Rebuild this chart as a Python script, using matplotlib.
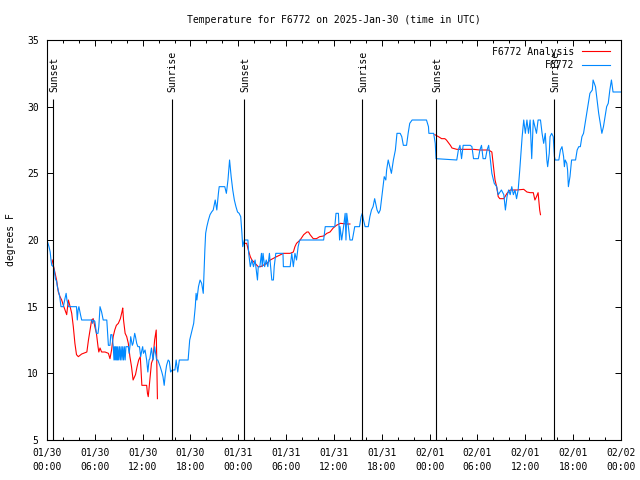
import numpy as np
import matplotlib
matplotlib.use("Agg")
import matplotlib.pyplot as plt
import matplotlib.dates as mdates

# hours after 2025-01-30 00:00 UTC, temperature in F
obs_hours = [0.0, 0.25, 0.4, 0.5, 0.6, 0.8, 0.9, 1.05, 1.2, 1.3, 1.5, 1.6, 1.75, 2.05, 2.25, 2.4, 2.5, 2.7,
             3.7, 3.8, 3.9, 4.0, 4.2, 4.35, 5.6, 5.7, 5.8, 6.0, 6.2, 6.4, 6.5, 6.65, 6.85, 7.05, 7.5, 7.6,
             7.7, 7.9, 8.0, 8.15, 8.3, 8.4, 8.45, 8.55, 8.6, 8.7, 8.75, 8.85, 8.9, 9.0, 9.1, 9.2, 9.3, 9.4,
             9.5, 9.6, 9.7, 9.8, 9.9, 10.2, 10.3, 10.4, 10.5, 10.7, 10.8, 11.0, 11.1, 11.25, 11.4, 11.6,
             11.75, 11.9, 12.0, 12.1, 12.3, 12.5, 12.65, 12.8, 12.9, 13.1, 13.3, 13.5, 13.75, 13.9, 14.05,
             14.2, 14.4, 14.55, 14.7, 14.85, 15.0, 15.2, 15.35, 15.5, 15.7, 16.05, 16.2, 16.4, 16.6, 17.7,
             17.9, 18.2, 18.4, 18.6, 18.7, 18.8, 19.0, 19.2, 19.4, 19.6, 19.8, 19.9, 20.05, 20.25, 20.45,
             20.65, 20.85, 21.1, 21.3, 21.5, 21.6, 22.3, 22.5, 22.7, 22.9, 23.1, 23.3, 23.5, 23.7, 23.9,
             24.1, 24.3, 24.45, 24.55, 24.75, 25.2, 25.3, 25.5, 25.7, 25.9, 26.1, 26.2, 26.4, 26.5, 26.7,
             26.9, 27.0, 27.1, 27.3, 27.5, 27.7, 27.9, 28.2, 28.4, 28.5, 28.7, 29.6, 29.65, 30.5, 30.7,
             30.9, 31.1, 31.3, 31.5, 31.7, 34.7, 34.9, 36.1, 36.25, 36.55, 36.7, 36.75, 36.97, 37.2, 37.4,
             37.5, 37.6, 37.8, 38.0, 38.3, 38.6, 39.2, 39.4, 39.55, 39.7, 39.9, 40.3, 40.5, 40.7, 40.9,
             41.1, 41.4, 41.6, 41.8, 42.0, 42.2, 42.3, 42.5, 42.6, 42.8, 43.0, 43.2, 43.45, 43.7, 43.9,
             44.3, 44.5, 44.7, 45.1, 45.3, 45.5, 45.8, 47.6, 47.85, 47.9, 48.5, 48.7, 48.8, 51.4, 51.6,
             51.8, 52.0, 52.2, 53.1, 53.3, 53.5, 54.1, 54.3, 54.5, 54.7, 55.0, 55.2, 55.4, 55.6, 55.8,
             56.1, 56.4, 56.6, 57.0, 57.3, 57.5, 57.7, 57.9, 58.1, 58.3, 58.5, 58.7, 58.9, 59.1, 59.3,
             59.6, 59.8, 60.0, 60.2, 60.4, 60.6, 60.8, 61.0, 61.4, 61.6, 61.9, 62.1, 62.3, 62.5, 62.7,
             62.8, 63.0, 63.1, 63.3, 63.5, 63.65, 63.75, 64.2, 64.4, 64.6, 64.8, 64.9, 65.0, 65.2, 65.3,
             65.4, 65.6, 65.8, 66.3, 66.5, 66.7, 66.9, 67.1, 67.3, 67.5, 67.7, 67.9, 68.1, 68.4, 68.5,
             68.8, 69.0, 69.2, 69.4, 69.6, 69.8, 70.0, 70.2, 70.4, 70.6, 70.8, 71.0, 72.0]
obs_temp = [20.0, 19.5, 19.1, 18.5, 18.1, 18.0, 17.75, 17.1, 16.9, 16.5, 16.0, 15.75, 15.0, 15.0, 15.6, 16.0,
            15.5, 15.0, 15.0, 14.0, 14.75, 15.0, 14.4, 14.0, 14.0, 13.75, 14.0, 13.9, 13.0, 13.0, 13.5,
            15.0, 14.6, 14.0, 14.0, 13.0, 12.1, 12.1, 12.9, 12.9, 12.1, 11.0, 12.0, 11.0, 12.0, 11.0, 12.0,
            11.0, 12.0, 11.0, 12.0, 11.0, 12.0, 11.0, 12.0, 11.0, 12.0, 11.0, 12.0, 12.0, 11.5, 12.0, 12.75,
            12.1, 12.25, 13.0, 12.75, 12.25, 12.0, 12.0, 11.25, 11.75, 12.0, 11.5, 11.75, 11.0, 10.1, 11.0,
            11.1, 11.9, 11.0, 12.0, 11.0, 11.0, 10.75, 10.5, 10.1, 9.75, 9.1, 10.0, 10.6, 11.0, 10.9, 10.1,
            10.25, 10.25, 11.0, 10.1, 11.0, 11.0, 12.5, 13.25, 13.75, 15.0, 16.0, 15.5, 16.5, 17.0, 16.75,
            16.0, 19.25, 20.5, 21.0, 21.5, 21.9, 22.1, 22.25, 23.0, 22.25, 23.5, 24.0, 24.0, 23.5, 24.5,
            26.0, 24.75, 23.75, 23.0, 22.5, 22.1, 22.0, 21.75, 20.5, 19.5, 20.0, 20.0, 19.0, 18.0, 18.5,
            18.0, 18.5, 18.0, 17.0, 18.0, 18.0, 19.0, 18.0, 19.0, 18.0, 18.5, 18.0, 19.0, 17.0, 17.0, 18.0,
            19.0, 19.0, 18.0, 18.0, 19.0, 18.0, 19.0, 18.5, 19.5, 20.0, 20.0, 21.0, 21.0, 22.0, 22.0, 20.0,
            21.0, 20.0, 21.0, 22.0, 20.0, 22.0, 21.0, 20.0, 20.0, 21.0, 21.0, 21.75, 22.0, 21.5, 21.0, 21.0,
            21.75, 22.25, 22.5, 23.1, 22.25, 22.0, 22.25, 23.25, 24.25, 24.75, 24.5, 25.25, 26.0, 25.5,
            25.0, 26.0, 26.75, 28.0, 28.0, 27.75, 27.1, 27.1, 28.0, 28.75, 29.0, 29.0, 28.5, 28.0, 28.0,
            27.25, 26.1, 26.0, 26.75, 27.1, 26.1, 27.1, 27.1, 27.0, 26.1, 26.1, 26.75, 27.1, 26.1, 26.1,
            26.75, 27.1, 26.1, 25.0, 24.25, 24.0, 23.4, 23.75, 23.4, 22.25, 23.25, 23.75, 23.4, 24.0, 23.4,
            23.75, 23.1, 23.75, 25.25, 27.75, 29.0, 28.0, 29.0, 28.0, 29.0, 26.1, 29.0, 28.0, 29.0, 29.0,
            28.0, 27.25, 28.0, 26.0, 25.5, 26.5, 27.75, 28.0, 27.75, 26.25, 26.0, 26.0, 26.75, 27.0, 26.25,
            25.5, 26.0, 25.75, 25.25, 24.0, 24.75, 26.0, 26.0, 26.75, 27.0, 27.0, 27.75, 28.0, 28.75, 29.5,
            30.25, 31.0, 31.25, 32.0, 31.5, 30.5, 29.5, 28.75, 28.0, 28.5, 29.25, 30.0, 30.25, 31.25, 32.0,
            31.1, 31.1]

# analysis series, NaN marks the gaps
ana_hours = [0.65, 0.8, 1.0, 1.2, 1.42, 1.63, 1.84, 2.05, 2.26, 2.47, 2.68, 2.9, 3.1, 3.3, 3.5, 3.7, 3.93,
             4.35, 4.77, 5.0, 5.2, 5.4, 5.6, 5.8, 6.0, 6.2, 6.4, 6.5, 6.65, 6.85, 7.28, 7.7, 7.9, 8.1, 8.3,
             8.5, 8.7, 8.95, 9.2, 9.4, 9.5, 9.6, 9.8, 10.0, 10.2, 10.4, 10.6, 10.8, 11.1, 11.3, 11.5, 11.7,
             11.9, 12.5, 12.6, 12.7, 12.9, 13.1, 13.3, 13.5, 13.7, 13.75, 13.85, 14.0,
             24.6, 25.05, 25.25, 25.5, 25.7, 26.1, 26.5, 26.8, 27.1, 27.6, 28.0, 28.8, 29.65, 30.5, 30.9,
             31.1, 31.3, 31.75, 32.2, 32.6, 32.8, 33.0, 33.4, 33.8, 34.2, 34.7, 35.1, 35.5, 35.9, 36.3,
             36.8, 37.6, 38.0, 38.1,
             48.65, 49.1, 49.5, 49.9, 50.1, 50.6, 50.8, 51.4, 53.5, 54.3, 55.4, 55.8, 56.0, 56.1, 56.2,
             56.4, 56.6, 56.8, 57.3, 57.7, 58.1, 58.9, 59.8, 60.2, 60.6, 61.0, 61.2, 61.4, 61.6, 61.8, 61.9]
ana_temp = [18.5, 18.1, 17.6, 17.0, 16.1, 15.75, 15.5, 15.1, 14.75, 14.4, 15.5, 15.0, 14.5, 13.5, 12.25,
            11.4, 11.25, 11.45, 11.55, 11.6, 12.5, 13.25, 14.0, 14.1, 13.5, 13.0, 12.0, 11.6, 11.9, 11.6,
            11.6, 11.5, 11.1, 11.75, 12.75, 13.25, 13.6, 13.75, 14.1, 14.6, 14.9, 14.0, 13.0, 12.75, 12.25,
            11.25, 10.5, 9.5, 9.9, 10.5, 11.0, 11.25, 9.1, 9.1, 8.5, 8.25, 9.5, 10.75, 11.1, 12.5, 13.25,
            11.5, 8.1, np.nan,
            19.75, 19.75, 19.25, 18.75, 18.5, 18.25, 18.0, 18.0, 18.1, 18.25, 18.5, 18.75, 19.0, 19.0, 19.1,
            19.5, 19.75, 20.0, 20.4, 20.6, 20.6, 20.4, 20.1, 20.1, 20.25, 20.3, 20.5, 20.6, 20.9, 21.1,
            21.25, 21.2, 21.2, np.nan,
            27.9, 27.75, 27.6, 27.6, 27.5, 27.1, 26.9, 26.8, 26.8, 26.75, 26.75, 26.6, 25.5, 25.0, 24.5,
            24.0, 23.25, 23.1, 23.1, 23.5, 23.75, 23.75, 23.8, 23.6, 23.55, 23.55, 23.0, 23.25, 23.55,
            22.25, 21.9]

sun_hours = [0.8, 15.64, 24.76, 39.57, 48.8, 63.65]
sun_labels = ["Sunset", "Sunrise", "Sunset", "Sunrise", "Sunset", "Sunrise"]

start = np.datetime64("2025-01-30T00:00:00")


def to_time(hours):
    secs = np.round(np.asarray(hours, dtype=float) * 3600).astype("int64")
    return start + secs.astype("timedelta64[s]")


plt.rcParams["font.family"] = ["DejaVu Sans Mono"]
plt.rcParams["font.size"] = 7

fig = plt.figure(figsize=(6.4, 4.8), dpi=100)
ax = fig.add_axes([47 / 640, 40 / 480, 574 / 640, 400 / 480])

ax.plot(to_time(ana_hours), ana_temp, color="#ff0000", lw=0.8, label="F6772 Analysis")
ax.plot(to_time(obs_hours), obs_temp, color="#0088ff", lw=0.8, label="F6772")

line_top = 30.57
ax.vlines(to_time(sun_hours), 5, line_top, color="black", lw=0.8)
for h, lab in zip(sun_hours, sun_labels):
    ax.text(to_time([h + 0.12])[0], 31.1, lab, rotation=90, ha="center", va="bottom", fontsize=7)

ax.set_xlim(start, start + np.timedelta64(72, "h"))
ax.set_ylim(5, 35)
ax.set_yticks(range(5, 36, 5))

ax.xaxis.set_major_locator(mdates.HourLocator(byhour=range(0, 24, 6)))
ax.xaxis.set_minor_locator(mdates.HourLocator(byhour=range(0, 24, 2)))
ax.xaxis.set_major_formatter(mdates.DateFormatter("%m/%d\n%H:%M"))

ax.tick_params(which="both", direction="in", top=True, right=True, width=0.7, labelsize=7)
ax.tick_params(which="major", length=4, pad=6)
ax.tick_params(which="minor", length=2.5)
for lab in ax.get_xticklabels():
    lab.set_linespacing(1.45)
for s in ax.spines.values():
    s.set_linewidth(0.8)

ax.set_ylabel("degrees F", labelpad=8)
ax.set_title("Temperature for F6772 on 2025-Jan-30 (time in UTC)", fontsize=7, pad=12)

ax.legend(loc="upper right", frameon=False, markerfirst=False, handlelength=2.9,
          handletextpad=0.8, labelspacing=0.35, borderaxespad=0.75, fontsize=7,
          bbox_to_anchor=(1.0, 1.011))

fig.savefig("out.png", dpi=100)
